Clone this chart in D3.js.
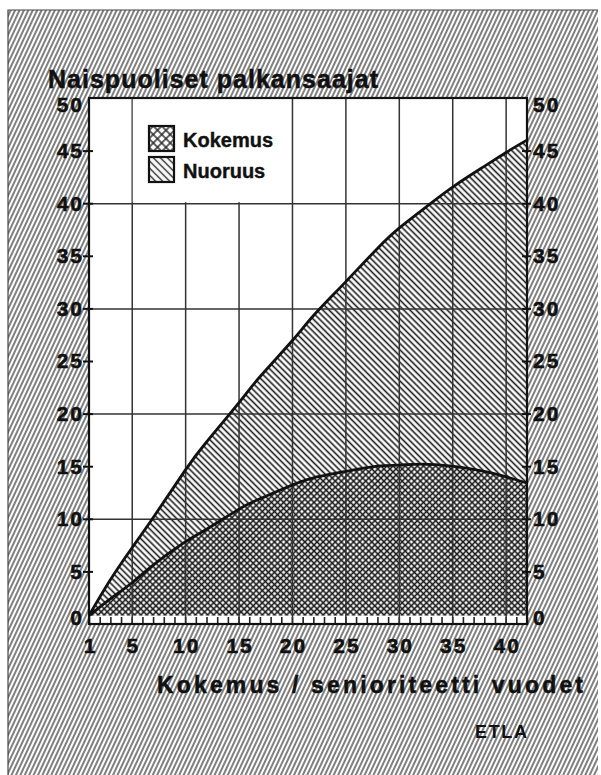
<!DOCTYPE html>
<html>
<head>
<meta charset="utf-8">
<script src="https://cdn.jsdelivr.net/npm/d3@7"></script>
<style>
  body { margin: 0; background: #fff; }
  text { font-family: "Liberation Sans", Arial, sans-serif; font-weight: bold; fill: #111; }
</style>
</head>
<body>
<div class="chart"></div>
<script>
// data
var years    = [1, 3, 5, 7, 10, 12, 15, 17, 20, 22, 25, 28, 30, 32, 35, 38, 40, 42];
var total    = [0.8, 4.2, 7.2, 10.1, 14.6, 17.3, 21.0, 23.5, 26.9, 29.3, 32.5, 35.7, 37.6, 39.2, 41.5, 43.5, 44.8, 46.0];
var kokemus  = [0.8, 2.4, 3.9, 5.6, 7.8, 9.0, 10.9, 11.9, 13.2, 13.9, 14.5, 15.0, 15.1, 15.2, 15.0, 14.5, 14.0, 13.4];
var xTicks   = [1, 5, 10, 15, 20, 25, 30, 35, 40];
var yTicks   = [0, 5, 10, 15, 20, 25, 30, 35, 40, 45, 50];
var legendLabels = ["Kokemus", "Nuoruus"];

var svgWidth = 601;
var svgHeight = 775;
var margin = { top: 98, right: 74, bottom: 151, left: 89 };
var width = svgWidth - margin.left - margin.right;
var height = svgHeight - margin.top - margin.bottom;

var svg = d3.select(".chart")
  .append("svg")
  .attr("width", svgWidth)
  .attr("height", svgHeight);

var defs = svg.append("defs");

// hatch pattern helper
function hatch(id, size, angle, lw, cross, color) {
  var p = defs.append("pattern")
    .attr("id", id)
    .attr("width", size)
    .attr("height", size)
    .attr("patternUnits", "userSpaceOnUse")
    .attr("patternTransform", "rotate(" + angle + ")");
  p.append("rect").attr("width", size).attr("height", size).attr("fill", "#fff");
  p.append("line").attr("x1", size / 2).attr("x2", size / 2).attr("y1", 0).attr("y2", size)
    .attr("stroke", color).attr("stroke-width", lw);
  if (cross) {
    p.append("line").attr("x1", 0).attr("x2", size).attr("y1", size / 2).attr("y2", size / 2)
      .attr("stroke", color).attr("stroke-width", lw);
  }
}
hatch("bgHatch", 4, 25, 1.3, false, "#3a3a3a");
hatch("nuorHatch", 4.4, -45, 1.6, false, "#1a1a1a");
hatch("kokHatch", 4.3, 45, 1.6, true, "#1a1a1a");
hatch("nuorLeg", 5, -45, 1.4, false, "#222");
hatch("kokLeg", 6, 45, 1.4, true, "#222");

// page background
svg.append("rect")
  .attr("x", 8).attr("y", 10)
  .attr("width", svgWidth - 11).attr("height", svgHeight - 10)
  .attr("fill", "url(#bgHatch)");
svg.append("path")
  .attr("d", "M8," + svgHeight + "V10H" + (svgWidth - 3))
  .attr("fill", "none").attr("stroke", "#444").attr("stroke-width", 1.2);

var chart = svg.append("g")
  .attr("transform", "translate(" + margin.left + "," + margin.top + ")");

var xScale = d3.scaleLinear().domain([1, 42]).range([0, width]);
var yScale = d3.scaleLinear().domain([0, 50]).range([height, 0]);

chart.append("rect")
  .attr("width", width).attr("height", height)
  .attr("fill", "#fff");

var data = years.map(function(d, i) {
  return { year: d, total: total[i], kokemus: kokemus[i] };
});

var curve = d3.curveNatural;

var nuorArea = d3.area()
  .x(function(d) { return xScale(d.year); })
  .y0(function(d) { return yScale(d.kokemus); })
  .y1(function(d) { return yScale(d.total); })
  .curve(curve);

var kokArea = d3.area()
  .x(function(d) { return xScale(d.year); })
  .y0(yScale(0))
  .y1(function(d) { return yScale(d.kokemus); })
  .curve(curve);

chart.append("path").datum(data).attr("d", nuorArea).attr("fill", "url(#nuorHatch)");
chart.append("path").datum(data).attr("d", kokArea).attr("fill", "url(#kokHatch)");

// white strip with the year ticks along the bottom
chart.append("rect")
  .attr("x", 0).attr("y", yScale(0.8))
  .attr("width", width).attr("height", yScale(0) - yScale(0.8))
  .attr("fill", "#fff");
chart.append("g")
  .attr("transform", "translate(0," + height + ")")
  .call(d3.axisBottom(xScale).tickValues(d3.range(1, 43)).tickSize(-7).tickFormat(""))
  .call(function(g) { g.select(".domain").remove(); })
  .selectAll("line").attr("stroke", "#222").attr("stroke-width", 1.6);

// grid
chart.append("g")
  .attr("class", "grid-x")
  .attr("transform", "translate(0," + height + ")")
  .call(d3.axisBottom(xScale).tickValues(d3.range(5, 41, 5)).tickSize(-height).tickFormat(""))
  .call(function(g) { g.select(".domain").remove(); })
  .selectAll("line").attr("stroke", "#333").attr("stroke-width", 1.5);

chart.append("g")
  .attr("class", "grid-y")
  .call(d3.axisLeft(yScale).tickValues([10, 20, 30, 40]).tickSize(-width).tickFormat(""))
  .call(function(g) { g.select(".domain").remove(); })
  .selectAll("line").attr("stroke", "#333").attr("stroke-width", 1.5);

// curves
var upperLine = d3.line()
  .x(function(d) { return xScale(d.year); })
  .y(function(d) { return yScale(d.total); })
  .curve(curve);
var lowerLine = d3.line()
  .x(function(d) { return xScale(d.year); })
  .y(function(d) { return yScale(d.kokemus); })
  .curve(curve);

chart.append("path").datum(data).attr("d", upperLine)
  .attr("fill", "none").attr("stroke", "#111").attr("stroke-width", 2.8);
chart.append("path").datum(data).attr("d", lowerLine)
  .attr("fill", "none").attr("stroke", "#111").attr("stroke-width", 2.8);

// legend, white box covering the grid
var lx0 = xScale(5) + 1, lx1 = xScale(20) - 1;
chart.append("rect")
  .attr("x", lx0).attr("y", 0)
  .attr("width", lx1 - lx0).attr("height", yScale(40) - 1)
  .attr("fill", "#fff");

var legend = chart.append("g").attr("transform", "translate(60,28)");
legendLabels.forEach(function(label, i) {
  var row = legend.append("g").attr("transform", "translate(0," + i * 31 + ")");
  row.append("rect")
    .attr("width", 25).attr("height", 25)
    .attr("fill", i === 0 ? "url(#kokLeg)" : "url(#nuorLeg)")
    .attr("stroke", "#111").attr("stroke-width", 2.2);
  row.append("text")
    .attr("x", 34).attr("y", 21)
    .attr("stroke", "#111").attr("stroke-width", 0.4)
    .style("font-size", "20px")
    .text(label);
});

// frame
chart.append("rect")
  .attr("width", width).attr("height", height)
  .attr("fill", "none").attr("stroke", "#111").attr("stroke-width", 2.2);

// axes
function styleAxis(g) {
  g.select(".domain").remove();
  g.selectAll("text")
    .attr("fill", "#111")
    .attr("stroke", "#111").attr("stroke-width", 0.5)
    .style("font-size", "21px")
    .style("font-family", "'Liberation Sans', Arial, sans-serif")
    .style("font-weight", "bold")
    .style("letter-spacing", "2px");
  g.selectAll("line").attr("stroke", "#111").attr("stroke-width", 2);
}

var leftAxis = chart.append("g")
  .call(d3.axisLeft(yScale).tickValues(yTicks).tickSize(6).tickPadding(-1))
  .call(styleAxis);
leftAxis.selectAll(".tick line").attr("x2", -6).attr("x1", 4);

var rightAxis = chart.append("g")
  .attr("transform", "translate(" + width + ",0)")
  .call(d3.axisRight(yScale).tickValues(yTicks).tickSize(4).tickPadding(2))
  .call(styleAxis);
rightAxis.selectAll(".tick line").attr("x1", -5);

[leftAxis, rightAxis].forEach(function(ax) {
  ax.selectAll(".tick").filter(function(d) { return d === 0 || d === 50; })
    .select("line").remove();
  ax.selectAll(".tick text")
    .attr("dy", function(d) { return d === 50 ? "0.65em" : d === 0 ? "0" : "0.33em"; });
});

var bottomAxis = chart.append("g")
  .attr("transform", "translate(0," + height + ")")
  .call(d3.axisBottom(xScale).tickValues(xTicks).tickSize(0).tickPadding(14))
  .call(styleAxis);
bottomAxis.selectAll("text").attr("dx", "1px");

// titles
svg.append("text")
  .attr("x", 48).attr("y", 88)
  .attr("textLength", 330).attr("lengthAdjust", "spacing")
  .attr("stroke", "#111").attr("stroke-width", 0.5)
  .style("font-size", "25px")
  .text("Naispuoliset palkansaajat");

svg.append("text")
  .attr("x", 157).attr("y", 693)
  .attr("textLength", 426).attr("lengthAdjust", "spacing")
  .attr("stroke", "#111").attr("stroke-width", 0.5)
  .style("font-size", "23px")
  .text("Kokemus / senioriteetti vuodet");

svg.append("text")
  .attr("x", 475).attr("y", 738)
  .attr("textLength", 52).attr("lengthAdjust", "spacing")
  .style("font-size", "18px")
  .text("ETLA");
</script>
</body>
</html>
